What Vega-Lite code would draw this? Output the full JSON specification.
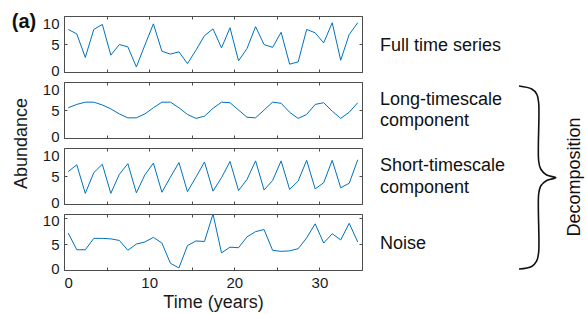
{
  "$schema": "https://vega.github.io/schema/vega-lite/v6.json",
  "padding": {"left": 11, "top": 11, "right": 0, "bottom": 0},
  "background": "white",
  "bounds": "flush",
  "spacing": 10,
  "config": {
    "font": "Liberation Sans",
    "view": {"stroke": "#4d4d4d", "strokeWidth": 1},
    "axis": {
      "labelFont": "Liberation Sans", "labelFontSize": 15, "labelColor": "#1a1a1a",
      "titleFont": "Liberation Sans", "titleFontSize": 18, "titleFontWeight": "normal", "titleColor": "#1a1a1a",
      "tickColor": "#4d4d4d", "tickSize": -3, "tickWidth": 1, "domain": false, "grid": false,
      "minExtent": 0, "labelPadding": 8
    },
    "text": {"font": "Liberation Sans", "color": "#111"}
  },
  "datasets": {
    "full": [
      {"t":0.5,"v":7.6},{"t":1.5,"v":6.8},{"t":2.5,"v":2.6},{"t":3.5,"v":7.6},{"t":4.5,"v":8.5},{"t":5.5,"v":3.0},{"t":6.5,"v":4.9},{"t":7.5,"v":4.5},{"t":8.5,"v":0.9},{"t":9.5,"v":4.8},
      {"t":10.5,"v":8.6},{"t":11.5,"v":3.7},{"t":12.5,"v":3.2},{"t":13.5,"v":3.6},{"t":14.5,"v":1.5},{"t":15.5,"v":3.9},{"t":16.5,"v":6.5},{"t":17.5,"v":7.7},{"t":18.5,"v":4.3},{"t":19.5,"v":7.9},
      {"t":20.5,"v":2.0},{"t":21.5,"v":4.2},{"t":22.5,"v":8.1},{"t":23.5,"v":4.9},{"t":24.5,"v":4.4},{"t":25.5,"v":7.1},{"t":26.5,"v":1.4},{"t":27.5,"v":1.8},{"t":28.5,"v":7.6},{"t":29.5,"v":7.0},
      {"t":30.5,"v":5.2},{"t":31.5,"v":8.8},{"t":32.5,"v":2.1},{"t":33.5,"v":6.7},{"t":34.5,"v":8.8}
    ],
    "long": [
      {"t":0.5,"v":5.4},{"t":1.5,"v":6.0},{"t":2.5,"v":6.4},{"t":3.5,"v":6.4},{"t":4.5,"v":5.9},{"t":5.5,"v":5.2},{"t":6.5,"v":4.3},{"t":7.5,"v":3.6},{"t":8.5,"v":3.6},{"t":9.5,"v":4.3},
      {"t":10.5,"v":5.4},{"t":11.5,"v":6.4},{"t":12.5,"v":6.4},{"t":13.5,"v":5.4},{"t":14.5,"v":4.2},{"t":15.5,"v":3.5},{"t":16.5,"v":3.9},{"t":17.5,"v":5.3},{"t":18.5,"v":6.4},{"t":19.5,"v":6.3},
      {"t":20.5,"v":5.0},{"t":21.5,"v":3.7},{"t":22.5,"v":3.6},{"t":23.5,"v":5.0},{"t":24.5,"v":6.4},{"t":25.5,"v":6.2},{"t":26.5,"v":4.6},{"t":27.5,"v":3.5},{"t":28.5,"v":4.2},{"t":29.5,"v":6.0},
      {"t":30.5,"v":6.3},{"t":31.5,"v":4.8},{"t":32.5,"v":3.5},{"t":33.5,"v":4.6},{"t":34.5,"v":6.3}
    ],
    "short": [
      {"t":0.5,"v":5.8},{"t":1.5,"v":7.0},{"t":2.5,"v":1.9},{"t":3.5,"v":5.6},{"t":4.5,"v":7.1},{"t":5.5,"v":1.9},{"t":6.5,"v":5.3},{"t":7.5,"v":7.2},{"t":8.5,"v":2.0},{"t":9.5,"v":5.2},
      {"t":10.5,"v":7.3},{"t":11.5,"v":2.1},{"t":12.5,"v":4.8},{"t":13.5,"v":7.4},{"t":14.5,"v":2.2},{"t":15.5,"v":4.8},{"t":16.5,"v":7.5},{"t":17.5,"v":2.3},{"t":18.5,"v":4.7},{"t":19.5,"v":7.6},
      {"t":20.5,"v":2.4},{"t":21.5,"v":4.4},{"t":22.5,"v":7.7},{"t":23.5,"v":2.5},{"t":24.5,"v":4.2},{"t":25.5,"v":7.7},{"t":26.5,"v":2.6},{"t":27.5,"v":4.1},{"t":28.5,"v":7.8},{"t":29.5,"v":2.7},
      {"t":30.5,"v":3.8},{"t":31.5,"v":7.8},{"t":32.5,"v":2.9},{"t":33.5,"v":3.7},{"t":34.5,"v":7.9}
    ],
    "noise": [
      {"t":0.5,"v":7.1},{"t":1.5,"v":3.9},{"t":2.5,"v":3.9},{"t":3.5,"v":6.1},{"t":4.5,"v":6.1},{"t":5.5,"v":6.0},{"t":6.5,"v":5.7},{"t":7.5,"v":3.8},{"t":8.5,"v":5.0},{"t":9.5,"v":5.4},
      {"t":10.5,"v":6.3},{"t":11.5,"v":5.2},{"t":12.5,"v":1.3},{"t":13.5,"v":0.4},{"t":14.5,"v":4.7},{"t":15.5,"v":5.6},{"t":16.5,"v":5.5},{"t":17.5,"v":10.8},{"t":18.5,"v":3.3},{"t":19.5,"v":4.4},
      {"t":20.5,"v":4.3},{"t":21.5,"v":6.4},{"t":22.5,"v":7.4},{"t":23.5,"v":7.8},{"t":24.5,"v":3.8},{"t":25.5,"v":3.6},{"t":26.5,"v":3.7},{"t":27.5,"v":4.1},{"t":28.5,"v":6.2},{"t":29.5,"v":8.9},
      {"t":30.5,"v":5.2},{"t":31.5,"v":7.0},{"t":32.5,"v":5.8},{"t":33.5,"v":9.0},{"t":34.5,"v":5.4}
    ],
    "brace": [
      {"i":0,"x":53.44,"y":35.49},{"i":1,"x":54.93,"y":34.91},{"i":2,"x":55.52,"y":33.94},{"i":3,"x":55.75,"y":32.21},
      {"i":4,"x":55.75,"y":21.02},{"i":5,"x":55.99,"y":19.48},{"i":6,"x":56.69,"y":18.32},{"i":7,"x":57.75,"y":17.8},
      {"i":8,"x":56.69,"y":17.26},{"i":9,"x":55.99,"y":16.2},{"i":10,"x":55.75,"y":14.66},{"i":11,"x":55.75,"y":3.47},
      {"i":12,"x":55.52,"y":1.74},{"i":13,"x":54.93,"y":0.68},{"i":14,"x":53.44,"y":0.19}
    ]
  },
  "vconcat": [
    {
      "width": 298, "height": 56,
      "data": {"name": "full"},
      "resolve": {"axis": {"x": "independent", "y": "independent"}},
      "layer": [
        {
          "mark": {"type": "line", "color": "#0072BD", "strokeWidth": 1},
          "encoding": {
            "x": {"field": "t", "type": "quantitative", "scale": {"domain": [0, 35], "nice": false, "zero": false},
                  "axis": {"orient": "bottom", "values": [0,5,10,15,20,25,30,35], "labels": false, "title": null}},
            "y": {"field": "v", "type": "quantitative", "scale": {"domain": [0, 10], "nice": false, "zero": false},
                  "axis": {"orient": "left", "values": [0,5,10], "title": null,
                           "labelBaseline": {"condition": {"test": "datum.value === 10", "value": "top"}, "value": "middle"},
                           "labelOffset": {"condition": {"test": "datum.value === 0", "value": -2}, "value": 0}}}
          }
        },
        {
          "mark": {"type": "line", "strokeOpacity": 0},
          "encoding": {
            "x": {"field": "t", "type": "quantitative", "axis": {"orient": "top", "values": [0,5,10,15,20,25,30,35], "labels": false, "title": null}},
            "y": {"field": "v", "type": "quantitative", "axis": {"orient": "right", "values": [0,5,10], "labels": false, "title": null}}
          }
        },
        {
          "data": {"values": [{"x": 37.1, "y": 3.75, "label": "Full time series"}]},
          "mark": {"type": "text", "align": "left", "baseline": "alphabetic", "fontSize": 18},
          "encoding": {
            "x": {"field": "x", "type": "quantitative", "axis": null},
            "y": {"field": "y", "type": "quantitative", "axis": null},
            "text": {"field": "label"}
          }
        },
        {
          "data": {"values": [{"x": -4.7, "y": 7.9, "label": "(a)"}]},
          "mark": {"type": "text", "align": "center", "baseline": "alphabetic", "fontSize": 20, "fontWeight": "bold"},
          "encoding": {
            "x": {"field": "x", "type": "quantitative", "axis": null},
            "y": {"field": "y", "type": "quantitative", "axis": null},
            "text": {"field": "label"}
          }
        }
      ]
    },
    {
      "width": 298, "height": 56,
      "data": {"name": "long"},
      "resolve": {"axis": {"x": "independent", "y": "independent"}},
      "layer": [
        {
          "mark": {"type": "line", "color": "#0072BD", "strokeWidth": 1},
          "encoding": {
            "x": {"field": "t", "type": "quantitative", "scale": {"domain": [0, 35], "nice": false, "zero": false},
                  "axis": {"orient": "bottom", "values": [0,5,10,15,20,25,30,35], "labels": false, "title": null}},
            "y": {"field": "v", "type": "quantitative", "scale": {"domain": [0, 10], "nice": false, "zero": false},
                  "axis": {"orient": "left", "values": [0,5,10], "title": "Abundance", "titleY": 61, "titlePadding": 12,
                           "labelBaseline": {"condition": {"test": "datum.value === 10", "value": "top"}, "value": "middle"},
                           "labelOffset": {"condition": {"test": "datum.value === 0", "value": -2}, "value": 0}}}
          }
        },
        {
          "mark": {"type": "line", "strokeOpacity": 0},
          "encoding": {
            "x": {"field": "t", "type": "quantitative", "axis": {"orient": "top", "values": [0,5,10,15,20,25,30,35], "labels": false, "title": null}},
            "y": {"field": "v", "type": "quantitative", "axis": {"orient": "right", "values": [0,5,10], "labels": false, "title": null}}
          }
        },
        {
          "data": {"values": [{"x": 37.1, "y": 5.9, "label": "Long-timescale"}, {"x": 37.1, "y": 2.14, "label": "component"}]},
          "mark": {"type": "text", "align": "left", "baseline": "alphabetic", "fontSize": 18},
          "encoding": {
            "x": {"field": "x", "type": "quantitative", "axis": null},
            "y": {"field": "y", "type": "quantitative", "axis": null},
            "text": {"field": "label"}
          }
        }
      ]
    },
    {
      "width": 298, "height": 56,
      "data": {"name": "short"},
      "resolve": {"axis": {"x": "independent", "y": "independent"}},
      "layer": [
        {
          "mark": {"type": "line", "color": "#0072BD", "strokeWidth": 1},
          "encoding": {
            "x": {"field": "t", "type": "quantitative", "scale": {"domain": [0, 35], "nice": false, "zero": false},
                  "axis": {"orient": "bottom", "values": [0,5,10,15,20,25,30,35], "labels": false, "title": null}},
            "y": {"field": "v", "type": "quantitative", "scale": {"domain": [0, 10], "nice": false, "zero": false},
                  "axis": {"orient": "left", "values": [0,5,10], "title": null,
                           "labelBaseline": {"condition": {"test": "datum.value === 10", "value": "top"}, "value": "middle"},
                           "labelOffset": {"condition": {"test": "datum.value === 0", "value": -2}, "value": 0}}}
          }
        },
        {
          "mark": {"type": "line", "strokeOpacity": 0},
          "encoding": {
            "x": {"field": "t", "type": "quantitative", "axis": {"orient": "top", "values": [0,5,10,15,20,25,30,35], "labels": false, "title": null}},
            "y": {"field": "v", "type": "quantitative", "axis": {"orient": "right", "values": [0,5,10], "labels": false, "title": null}}
          }
        },
        {
          "data": {"values": [{"x": 37.1, "y": 5.9, "label": "Short-timescale"}, {"x": 37.1, "y": 1.96, "label": "component"}]},
          "mark": {"type": "text", "align": "left", "baseline": "alphabetic", "fontSize": 18},
          "encoding": {
            "x": {"field": "x", "type": "quantitative", "axis": null},
            "y": {"field": "y", "type": "quantitative", "axis": null},
            "text": {"field": "label"}
          }
        }
      ]
    },
    {
      "width": 298, "height": 56,
      "data": {"name": "noise"},
      "resolve": {"axis": {"x": "independent", "y": "independent"}},
      "layer": [
        {
          "mark": {"type": "line", "color": "#0072BD", "strokeWidth": 1},
          "encoding": {
            "x": {"field": "t", "type": "quantitative", "scale": {"domain": [0, 35], "nice": false, "zero": false},
                  "axis": {"orient": "bottom", "values": [0,5,10,15,20,25,30,35], "title": "Time (years)", "titlePadding": 3,
                           "labelExpr": "datum.value % 10 === 0 ? datum.label : ''", "labelFlush": true}},
            "y": {"field": "v", "type": "quantitative", "scale": {"domain": [0, 10.8], "nice": false, "zero": false},
                  "axis": {"orient": "left", "values": [0,5,10], "title": null,
                           "labelOffset": {"condition": [{"test": "datum.value === 0", "value": -2}, {"test": "datum.value === 10", "value": 2}], "value": 0}}}
          }
        },
        {
          "mark": {"type": "line", "strokeOpacity": 0},
          "encoding": {
            "x": {"field": "t", "type": "quantitative", "axis": {"orient": "top", "values": [0,5,10,15,20,25,30,35], "labels": false, "title": null}},
            "y": {"field": "v", "type": "quantitative", "axis": {"orient": "right", "values": [0,5,10], "labels": false, "title": null}}
          }
        },
        {
          "data": {"values": [{"x": 37.1, "y": 4.05, "label": "Noise"}]},
          "mark": {"type": "text", "align": "left", "baseline": "alphabetic", "fontSize": 18},
          "encoding": {
            "x": {"field": "x", "type": "quantitative", "axis": null},
            "y": {"field": "y", "type": "quantitative", "axis": null},
            "text": {"field": "label"}
          }
        },
        {
          "data": {"name": "brace"},
          "mark": {"type": "line", "color": "#111", "strokeWidth": 1.6, "interpolate": "catmull-rom"},
          "encoding": {
            "x": {"field": "x", "type": "quantitative", "axis": null},
            "y": {"field": "y", "type": "quantitative", "axis": null},
            "order": {"field": "i", "type": "quantitative"}
          }
        },
        {
          "data": {"values": [{"x": 60.04, "y": 17.94, "label": "Decomposition"}]},
          "mark": {"type": "text", "align": "center", "baseline": "middle", "fontSize": 18, "angle": 270},
          "encoding": {
            "x": {"field": "x", "type": "quantitative", "axis": null},
            "y": {"field": "y", "type": "quantitative", "axis": null},
            "text": {"field": "label"}
          }
        }
      ]
    }
  ]
}
